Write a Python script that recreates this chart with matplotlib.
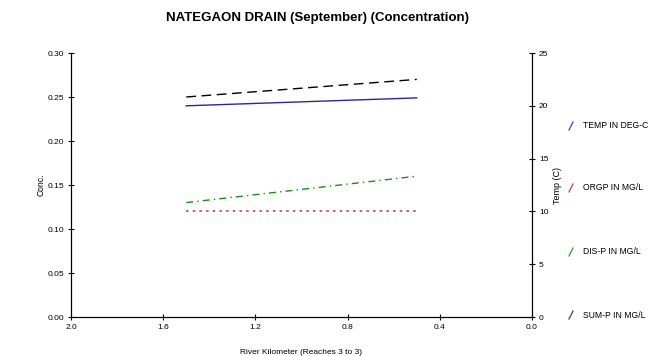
import matplotlib.pyplot as plt

plt.rcParams['font.family'] = ['Liberation Sans', 'DejaVu Sans']

km = [1.5, 0.5]
temp = [20.0, 20.75]        ## deg C, right axis
orgp = [0.12, 0.12]         ## mg/L
dis_p = [0.13, 0.16]        ## mg/L
sum_p = [0.25, 0.27]        ## mg/L

legend_labels = ['TEMP IN DEG-C', 'ORGP IN MG/L', 'DIS-P IN MG/L', 'SUM-P IN MG/L']
legend_colors = ['#4040b0', '#b04040', '#30a030', '#404040']

fig = plt.figure(figsize=(6.67, 3.56), dpi=100)
ax = fig.add_axes([71/667, 1 - 317/356, (532-71)/667, (317-53)/356])
ax2 = ax.twinx()

ax.plot(km, orgp, color='#c05858', lw=1.3, linestyle=(0, (1.4, 2.3)))
ax.plot(km, dis_p, color='#159015', lw=1.0, linestyle=(0, (5, 3, 1, 3)))
ax.plot(km, sum_p, color='black', lw=1.0, linestyle=(0, (7, 4)))
ax2.plot(km, temp, color='#2828a0', lw=1.0)

ax.set_xlim(2.0, 0.0)
ax.set_ylim(0, 0.30)
ax2.set_ylim(0, 25)
ax.set_xticks([2.0, 1.6, 1.2, 0.8, 0.4, 0.0])
ax.set_yticks([0, 0.05, 0.10, 0.15, 0.20, 0.25, 0.30])
ax.set_yticklabels(['%.2f' % v for v in ax.get_yticks()])
ax.set_xticklabels(['%.1f' % v for v in ax.get_xticks()])
ax2.set_yticks([0, 5, 10, 15, 20, 25])

for a in (ax, ax2):
    a.spines['top'].set_visible(False)
    a.tick_params(direction='inout', length=5, width=0.8, labelsize=6, pad=2.5)
ax.set_xlabel('River Kilometer (Reaches 3 to 3)', fontsize=6, labelpad=13)
ax.set_ylabel('Conc.', fontsize=6.2, labelpad=1)
ax2.set_ylabel('Temp (C)', fontsize=6.5, labelpad=3)

fig.text(318/667, 1 - 18/356, 'NATEGAON DRAIN (September) (Concentration)',
         ha='center', va='center', fontsize=9.5, fontweight='bold')

ys = [126, 188, 252, 315]
for lab, col, y in zip(legend_labels, legend_colors, ys):
    fig.add_artist(plt.Line2D([569/667, 573/667], [1 - (y + 4)/356, 1 - (y - 4)/356],
                              color=col, lw=0.9))
    fig.text(583/667, 1 - y/356, lab, fontsize=6.2, va='center', ha='left')

plt.savefig('out.png', dpi=100)
